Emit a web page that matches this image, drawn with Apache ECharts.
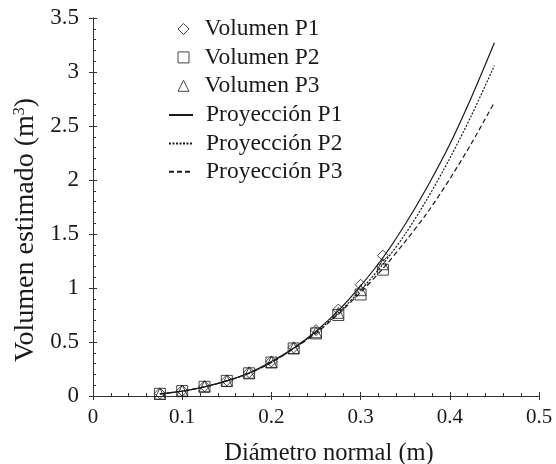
<!DOCTYPE html>
<html><head><meta charset="utf-8">
<script src="https://cdn.jsdelivr.net/npm/echarts@6/dist/echarts.min.js"></script>
<style>html,body{margin:0;padding:0;background:#fff}#c{width:556px;height:464px}</style>
</head><body><div id="c"></div>
<script>
var markerX = [0.075, 0.1, 0.125, 0.15, 0.175, 0.2, 0.225, 0.25, 0.275, 0.3, 0.325];
var volP1 = [0.025, 0.05, 0.09, 0.145, 0.22, 0.32, 0.45, 0.61, 0.80, 1.03, 1.30];
var volP2 = [0.02, 0.045, 0.085, 0.14, 0.21, 0.31, 0.44, 0.58, 0.75, 0.94, 1.17];
var volP3 = [0.02, 0.05, 0.09, 0.14, 0.215, 0.315, 0.445, 0.59, 0.77, 0.98, 1.22];

var projX = [0.075, 0.1, 0.125, 0.15, 0.175, 0.2, 0.225, 0.25, 0.275, 0.3, 0.325, 0.35, 0.375, 0.4, 0.425, 0.45];
var projP1 = [0.02, 0.045, 0.085, 0.14, 0.215, 0.32, 0.445, 0.60, 0.79, 1.02, 1.28, 1.59, 1.94, 2.33, 2.78, 3.27];
var projP2 = [0.02, 0.045, 0.085, 0.14, 0.21, 0.31, 0.44, 0.59, 0.77, 0.98, 1.22, 1.50, 1.83, 2.20, 2.61, 3.06];
var projP3 = [0.02, 0.045, 0.085, 0.14, 0.21, 0.31, 0.44, 0.58, 0.76, 0.96, 1.18, 1.43, 1.70, 2.01, 2.35, 2.72];

var markerNames = ['Volumen P1', 'Volumen P2', 'Volumen P3'];
var lineNames = ['Proyección P1', 'Proyección P2', 'Proyección P3'];

function pairs(xs, ys) { return xs.map(function (x, i) { return [x, ys[i]]; }); }

var FONT = '"Liberation Serif", "DejaVu Serif", serif';
var INK = '#1a1a1a';

var chart = echarts.init(document.getElementById('c'), null, { renderer: 'canvas' });

function scatter(name, data, symbol) {
  return {
    name: name, type: 'scatter', data: data, symbol: symbol, symbolSize: 11,
    itemStyle: { color: 'rgba(255,255,255,0)', borderColor: INK, borderWidth: 1 },
    z: 3
  };
}
function line(name, data, type) {
  return {
    name: name, type: 'line', data: data, symbol: 'none', smooth: 0.3,
    lineStyle: { color: INK, width: 1.2, type: type },
    itemStyle: { color: 'rgba(0,0,0,0)', opacity: 0 },
    z: 2
  };
}

var legendText = { fontFamily: FONT, fontSize: 23.5, color: INK, lineHeight: 26 };

chart.setOption({
  animation: false,
  backgroundColor: '#fff',
  textStyle: { fontFamily: FONT, color: INK },
  grid: { left: 93, right: 17, top: 18, bottom: 68, containLabel: false, outerBoundsMode: 'none' },
  legend: [{
    data: markerNames, orient: 'vertical', left: 172.5, top: 11,
    itemWidth: 11, itemHeight: 11, itemGap: 2.4,
    itemStyle: { color: 'rgba(255,255,255,0)', borderColor: INK, borderWidth: 1 },
    textStyle: Object.assign({ padding: [0, 0, 0, 10.5] }, legendText)
  }, {
    data: lineNames, orient: 'vertical', left: 163, top: 97,
    itemWidth: 24, itemHeight: 11, itemGap: 2.4,
    textStyle: Object.assign({ padding: [0, 0, 0, 8] }, legendText)
  }],
  xAxis: [{
    type: 'value', min: 0, max: 0.5, interval: 0.1,
    axisLine: { show: true, lineStyle: { color: '#333', width: 1 } },
    axisTick: { show: true, inside: true, length: 4, lineStyle: { color: '#333' } },
    minorTick: { show: true, splitNumber: 5, length: 3, lineStyle: { color: '#333' } },
    splitLine: { show: false },
    axisLabel: { fontFamily: FONT, fontSize: 21, color: INK, margin: 11 },
    name: 'Diámetro normal (m)', nameLocation: 'middle', nameGap: 45,
    nameTextStyle: { fontFamily: FONT, fontSize: 24.5, color: INK, padding: [0, 0, 0, 26] }
  }, {
    type: 'value', min: 0, max: 0.5, interval: 0.1, position: 'bottom',
    axisLine: { show: false }, axisLabel: { show: false }, splitLine: { show: false },
    axisTick: { show: true, inside: false, length: 4, lineStyle: { color: '#333' } }
  }],
  yAxis: [{
    type: 'value', min: 0, max: 3.5, interval: 0.5,
    axisLine: { show: true, lineStyle: { color: '#333', width: 1 } },
    axisTick: { show: true, inside: true, length: 4, lineStyle: { color: '#333' } },
    minorTick: { show: true, splitNumber: 5, length: 3, lineStyle: { color: '#333' } },
    splitLine: { show: false },
    axisLabel: { fontFamily: FONT, fontSize: 23, color: INK, margin: 14 },
    name: '{t|Volumen estimado (m}{s|3}{t|)}', nameLocation: 'middle', nameGap: 53,
    nameTextStyle: {
      fontFamily: FONT, fontSize: 28, color: INK, padding: [0, 46, 0, 0],
      rich: {
        t: { fontFamily: FONT, fontSize: 28, color: INK },
        s: { fontFamily: FONT, fontSize: 16, color: INK, verticalAlign: 'top', padding: [0, 0, 11, 0] }
      }
    }
  }, {
    type: 'value', min: 0, max: 3.5, interval: 0.5, position: 'left',
    axisLine: { show: false }, axisLabel: { show: false }, splitLine: { show: false },
    axisTick: { show: true, inside: false, length: 4, lineStyle: { color: '#333' } }
  }],
  series: [
    scatter(markerNames[0], pairs(markerX, volP1), 'diamond'),
    scatter(markerNames[1], pairs(markerX, volP2), 'rect'),
    scatter(markerNames[2], pairs(markerX, volP3), 'triangle'),
    line(lineNames[0], pairs(projX, projP1), 'solid'),
    line(lineNames[1], pairs(projX, projP2), [2, 1.5]),
    line(lineNames[2], pairs(projX, projP3), [5, 3])
  ]
});
</script></body></html>
